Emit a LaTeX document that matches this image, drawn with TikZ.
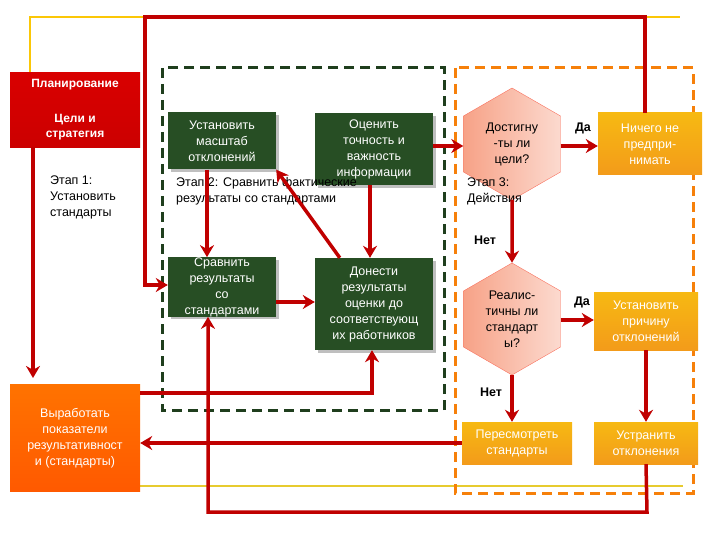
\documentclass[tikz,border=0pt]{standalone}
\usepackage{fontspec}
\setmainfont{Liberation Sans}
\usetikzlibrary{shapes.geometric,arrows.meta,positioning,shadows}
\definecolor{arr}{HTML}{C00000}
\definecolor{dgreen}{HTML}{274E24}
\definecolor{org}{HTML}{F39B1A}
\definecolor{salm}{HTML}{F7A287}
\begin{document}
\begin{tikzpicture}[x=1pt,y=-1pt,font=\fontsize{12.5}{16}\selectfont,
 gbox/.style={draw=none,fill=dgreen,text=white,align=center,minimum width=108pt,inner sep=1pt,drop shadow},
 obox/.style={draw=none,top color=org!70!yellow,bottom color=org,text=white,align=center,minimum width=104pt,inner sep=1pt},
 hex/.style={regular polygon,regular polygon sides=6,shape border rotate=90,draw=salm!70!red,left color=salm,right color=salm!40,align=center,inner sep=0pt,minimum size=112pt},
 ar/.style={draw=arr,line width=3.5pt,-{Stealth[length=12pt,width=14pt]}},
 lab/.style={align=left,anchor=north west,inner sep=0pt},
 yn/.style={font=\fontsize{12.5}{14}\selectfont\bfseries}]
\useasboundingbox (0,0) rectangle (720,540);
\draw[draw=yellow!60!orange,line width=1.5pt] (30,72) -- (30,17) -- (145,17);
\draw[draw=yellow!60!orange,line width=1.5pt] (645,17) -- (680,17);
\draw[draw=yellow!60!brown,line width=1.5pt] (140,486) -- (683,486);
\draw[dgreen!80!black,line width=3pt,dash pattern=on 10pt off 6pt] (162,68) rectangle (444,410);
\draw[orange!85!brown,line width=3pt,dash pattern=on 10pt off 6pt] (455,68) rectangle (693,493);
\node[draw=none,top color=red!85!black,bottom color=red!80!black,minimum width=130pt,minimum height=75pt] (plan) at (75,110) {};
\node[text=white,font=\fontsize{12}{15}\selectfont\bfseries] (plant) at (75,85) {Планирование};
\node[text=white,align=center,font=\fontsize{12}{15}\selectfont\bfseries] (goal) at (75,127) {Цели и\\стратегия};
\node[lab] (st1) at (50,176) {Этап 1:\\Установить\\стандарты};
\node[top color=orange!90!red,bottom color=orange!70!red,text=white,align=center,minimum width=130pt,minimum height=107pt] (vyr) at (75,438) {Выработать\\показатели\\результативност\\и (стандарты)};
\node[gbox,minimum height=57pt] (b1) at (222,141) {Установить\\масштаб\\отклонений};
\node[gbox,minimum height=72pt,minimum width=118pt] (b2) at (374,149) {Оценить\\точность и\\важность\\информации};
\node[lab] (st2) at (176,177) {Этап 2: Сравнить фактические\\результаты со стандартами};
\node[gbox,minimum height=58pt,inner sep=0pt] (b3) at (222,287) {Сравнить\\результаты\\со\\стандартами};
\node[gbox,minimum height=92pt,minimum width=118pt] (b4) at (374,304) {Донести\\результаты\\оценки до\\соответствующ\\их работников};
\node[hex] (h1) at (512,144) {Достигну\\-ты ли\\цели?};
\node[lab] (st3) at (467,178) {Этап 3:\\Действия};
\node[hex] (h2) at (512,319) {Реалис-\\тичны ли\\стандарт\\ы?};
\node[obox,minimum height=62pt] (o1) at (650,144) {Ничего не\\предпри-\\нимать};
\node[obox,minimum height=58pt] (o2) at (646,321) {Установить\\причину\\отклонений};
\node[obox,minimum height=42pt] (o3) at (646,443) {Устранить\\отклонения};
\node[obox,minimum height=42pt,minimum width=110pt] (o4) at (517,443) {Пересмотреть\\стандарты};
\node[yn] (da1) at (583,128) {Да};
\node[yn] (da2) at (582,302) {Да};
\node[yn] (net1) at (485,240) {Нет};
\node[yn] (net2) at (491,392) {Нет};
\coordinate (c1) at (145,285);
\coordinate (c2) at (33,147);
\coordinate (top) at (645,113);
\draw[ar] (top) -- (645,17) -- (145,17) -- (145,285) -- (b3.west|-c1);
\draw[ar] (c2) -- (33,378);
\draw[ar] (b1.south-|207,0) -- (b3.north-|207,0);
\draw[ar] (b4.north west) ++(25,0) -- (b1.south east);
\draw[ar] (b2.south-|370,0) -- (b4.north-|370,0);
\draw[ar] (b3.east|-0,302) -- (b4.west|-0,302);
\draw[ar] (b2.east|-0,146) -- (h1.west|-0,146);
\draw[ar] (h1.east|-0,146) -- (o1.west|-0,146);
\draw[ar] (h1.south) -- (h2.north);
\draw[ar] (h2.east|-0,320) -- (o2.west|-0,320);
\draw[ar] (h2.south) -- (o4.north-|h2.south);
\draw[ar] (o2.south) -- (o3.north);
\draw[ar] (o4.west) -- (vyr.east|-o4.west);
\draw[ar] (vyr.east|-0,393) -- (372,393) -- (b4.south-|372,0);
\draw[ar] (o3.south) -- (647,512) -- (208,512) -- (b3.south-|208,0);
\end{tikzpicture}
\end{document}
